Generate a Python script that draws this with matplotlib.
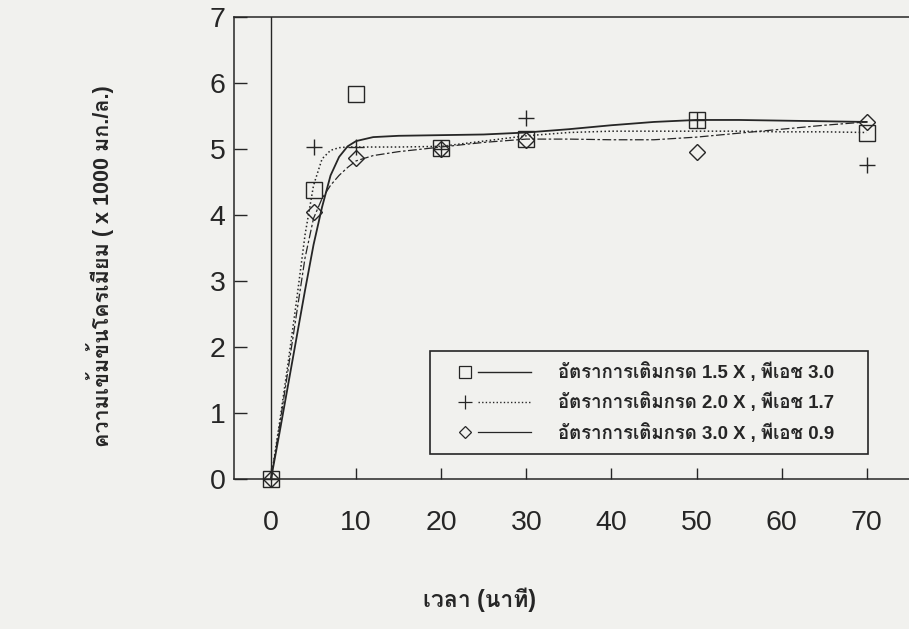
import numpy as np
import matplotlib
matplotlib.use("Agg")
import matplotlib.pyplot as plt
from matplotlib import font_manager
from matplotlib.ft2font import FT2Font
from matplotlib.lines import Line2D
from matplotlib.legend_handler import HandlerLine2D

# ---------------- data ----------------
time_pts = [0, 5, 10, 20, 30, 50, 70]
series_a = [0, 4.38, 5.83, 5.01, 5.15, 5.44, 5.24]   # 1.5 X, pH 3.0 (square)
series_b = [0, 5.03, 5.03, 5.00, 5.47, 5.44, 4.76]   # 2.0 X, pH 1.7 (plus)
series_c = [0, 4.05, 4.86, 5.00, 5.13, 4.96, 5.41]   # 3.0 X, pH 0.9 (diamond)

fit_t = [0, 1, 2, 3, 4, 5, 6, 7, 8, 9, 10, 12, 15, 20, 25, 30, 35, 40, 45, 50, 55, 60, 65, 70]
fit_a = [0, 0.70, 1.42, 2.14, 2.86, 3.55, 4.12, 4.60, 4.88, 5.04, 5.12, 5.18, 5.20, 5.21, 5.22,
         5.25, 5.30, 5.36, 5.41, 5.44, 5.44, 5.43, 5.42, 5.41]
fit_b = [0, 0.85, 1.75, 2.70, 3.70, 4.45, 4.85, 4.98, 5.02, 5.03, 5.03, 5.03, 5.03, 5.04, 5.12,
         5.20, 5.25, 5.27, 5.27, 5.27, 5.27, 5.26, 5.26, 5.25]
fit_c = [0, 0.80, 1.65, 2.50, 3.35, 3.95, 4.25, 4.45, 4.60, 4.72, 4.82, 4.90, 4.96, 5.03, 5.10,
         5.15, 5.15, 5.14, 5.14, 5.18, 5.24, 5.30, 5.36, 5.41]

labels = ["อัตราการเติมกรด 1.5 X , พีเอช 3.0",
          "อัตราการเติมกรด 2.0 X , พีเอช 1.7",
          "อัตราการเติมกรด 3.0 X , พีเอช 0.9"]
x_ticks = [0, 10, 20, 30, 40, 50, 60, 70]
y_ticks = [0, 1, 2, 3, 4, 5, 6, 7]
x_title = "เวลา (นาที)"
y_title = "ความเข้มข้นโครเมียม ( x 1000 มก./ล.)"

# ---------------- fonts ----------------
thai_font = None
seen = set()
for f in font_manager.fontManager.ttflist:
    if f.fname in seen:
        continue
    seen.add(f.fname)
    try:
        cmap = FT2Font(f.fname).get_charmap()
    except Exception:
        continue
    if 0x0E2D in cmap and 0x0E32 in cmap and 0x0E40 in cmap:
        thai_font = f.name
        break

latin = ["Liberation Sans", "DejaVu Sans"]
fam_text = ["Liberation Sans"] + ([thai_font] if thai_font else []) + ["DejaVu Sans"]
plt.rcParams['font.family'] = fam_text

BG = "#f1f1ee"
INK = "#262626"

fig = plt.figure(figsize=(9.09, 6.29), dpi=100, facecolor=BG)
W, H = 909, 629
left_px, right_px, top_px, bot_px = 234, 909, 17, 479
ax = fig.add_axes([left_px / W, 1 - bot_px / H, (right_px - left_px) / W, (bot_px - top_px) / H])
ax.set_facecolor(BG)

x0_px, px_per_unit = 271, 8.51
ax.set_xlim((left_px - x0_px) / px_per_unit, (right_px - x0_px) / px_per_unit)
ax.set_ylim(0, 7)

ax.axvline(0, color=INK, lw=1.0, zorder=1)

# fitted curves
ax.plot(fit_t, fit_a, color=INK, lw=1.3, ls='-', zorder=2)
ax.plot(fit_t, fit_b, color=INK, lw=1.1, ls=(0, (1, 1.6)), zorder=2)
ax.plot(fit_t, fit_c, color=INK, lw=0.9, ls=(0, (7, 2, 2, 2)), zorder=2)

# data points
ax.plot(time_pts, series_a, ls='none', marker='s', ms=12, mfc='none', mec=INK, mew=1.0, clip_on=False, zorder=3)
ax.plot(time_pts, series_b, ls='none', marker='+', ms=12, mec=INK, mew=1.0, clip_on=False, zorder=3)
ax.plot(time_pts, series_c, ls='none', marker='D', ms=8.3, mfc='none', mec=INK, mew=1.0, clip_on=False, zorder=3)

# spines / ticks
for s in ['left', 'top', 'bottom']:
    ax.spines[s].set_color(INK)
    ax.spines[s].set_linewidth(1.1)
ax.spines['right'].set_visible(False)

ax.set_xticks(x_ticks)
ax.set_xticklabels([str(v) for v in x_ticks])
ax.set_yticks(y_ticks)
ax.set_yticklabels([str(v) for v in y_ticks])
ax.tick_params(axis='x', direction='in', length=8, width=1, colors=INK, pad=22, labelsize=20.5)
ax.tick_params(axis='y', direction='in', length=9, width=1, colors=INK, pad=6, labelsize=20.5)
for lab in ax.get_xticklabels() + ax.get_yticklabels():
    lab.set_fontfamily(latin)

# titles
fig.text(480 / W, 1 - 600 / H, x_title, ha='center', va='center', fontsize=16.5, color=INK,
         fontweight='bold')
fig.text(100 / W, 1 - 266 / H, y_title, ha='center', va='center', rotation=90, fontsize=15.5,
         color=INK, fontweight='bold')


# legend: marker first, then line
class MarkerThenLine(HandlerLine2D):
    def create_artists(self, legend, orig_handle, xdescent, ydescent, width, height, fontsize, trans):
        yc = (height - ydescent) / 2
        x_m = -xdescent + 0.26 * width
        line = Line2D([-xdescent + 0.40 * width, -xdescent + 0.98 * width], [yc, yc])
        self.update_prop(line, orig_handle, legend)
        line.set_marker('none')
        mk = Line2D([x_m], [yc])
        self.update_prop(mk, orig_handle, legend)
        mk.set_linestyle('None')
        line.set_transform(trans)
        mk.set_transform(trans)
        return [line, mk]


h1 = Line2D([], [], color=INK, lw=1.0, ls='-', marker='s', ms=9, mfc='none', mec=INK, mew=0.9)
h2 = Line2D([], [], color=INK, lw=1.0, ls=(0, (1, 1.6)), marker='+', ms=10, mec=INK, mew=0.9)
h3 = Line2D([], [], color=INK, lw=0.9, ls='-', marker='D', ms=6.5, mfc='none', mec=INK, mew=0.9)

lx0 = (430 - left_px) / (right_px - left_px)
lx1 = (868 - left_px) / (right_px - left_px)
ly0 = (bot_px - 453) / (bot_px - top_px)
ly1 = (bot_px - 352) / (bot_px - top_px)
leg = ax.legend([h1, h2, h3], labels, loc='center', bbox_to_anchor=(lx0, ly0, lx1 - lx0, ly1 - ly0),
                mode='expand', borderaxespad=0, handlelength=4.9, handletextpad=1.4,
                borderpad=0.6, labelspacing=0.55, fontsize=13.4, frameon=True, fancybox=False,
                facecolor=BG, edgecolor=INK, framealpha=1,
                handler_map={Line2D: MarkerThenLine()})
leg.get_frame().set_linewidth(1.2)
for t in leg.get_texts():
    t.set_color(INK)
    t.set_fontweight('bold')

fig.savefig("out.png", dpi=100, facecolor=BG)
